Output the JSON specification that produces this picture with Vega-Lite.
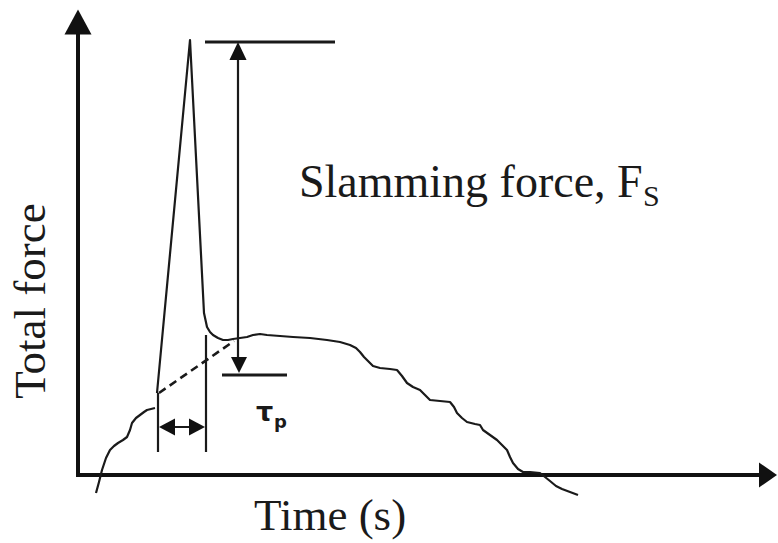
{
  "$schema": "https://vega.github.io/schema/vega-lite/v6.json",
  "width": 778,
  "height": 543,
  "autosize": {"type": "fit", "contains": "padding"},
  "padding": 0,
  "background": "white",
  "config": {"view": {"stroke": null}},
  "datasets": {
    "curve": [
      {"seg": "tail", "x": 96, "y": 493}, {"seg": "tail", "x": 99, "y": 482}, {"seg": "tail", "x": 102, "y": 470},
      {"seg": "tail", "x": 106, "y": 458}, {"seg": "tail", "x": 110, "y": 450}, {"seg": "tail", "x": 114, "y": 446},
      {"seg": "tail", "x": 118, "y": 443}, {"seg": "tail", "x": 123, "y": 440}, {"seg": "tail", "x": 127, "y": 437},
      {"seg": "tail", "x": 130, "y": 430}, {"seg": "tail", "x": 132, "y": 423}, {"seg": "tail", "x": 136, "y": 418},
      {"seg": "tail", "x": 140, "y": 415}, {"seg": "tail", "x": 144, "y": 412}, {"seg": "tail", "x": 147, "y": 410},
      {"seg": "tail", "x": 151, "y": 409}, {"seg": "tail", "x": 155, "y": 408},
      {"seg": "main", "x": 157, "y": 393}, {"seg": "main", "x": 190, "y": 40}, {"seg": "main", "x": 204, "y": 313},
      {"seg": "main", "x": 207, "y": 327}, {"seg": "main", "x": 210, "y": 332}, {"seg": "main", "x": 213, "y": 335},
      {"seg": "main", "x": 218, "y": 338}, {"seg": "main", "x": 223, "y": 340}, {"seg": "main", "x": 228, "y": 340},
      {"seg": "main", "x": 233, "y": 339}, {"seg": "main", "x": 240, "y": 338}, {"seg": "main", "x": 247, "y": 337},
      {"seg": "main", "x": 253, "y": 335}, {"seg": "main", "x": 260, "y": 334}, {"seg": "main", "x": 267, "y": 335},
      {"seg": "main", "x": 280, "y": 336}, {"seg": "main", "x": 293, "y": 337}, {"seg": "main", "x": 310, "y": 338},
      {"seg": "main", "x": 327, "y": 340}, {"seg": "main", "x": 340, "y": 342}, {"seg": "main", "x": 350, "y": 345},
      {"seg": "main", "x": 356, "y": 348}, {"seg": "main", "x": 360, "y": 352}, {"seg": "main", "x": 364, "y": 357},
      {"seg": "main", "x": 368, "y": 361}, {"seg": "main", "x": 373, "y": 366}, {"seg": "main", "x": 380, "y": 368},
      {"seg": "main", "x": 390, "y": 369}, {"seg": "main", "x": 397, "y": 370}, {"seg": "main", "x": 402, "y": 376},
      {"seg": "main", "x": 407, "y": 383}, {"seg": "main", "x": 413, "y": 387}, {"seg": "main", "x": 420, "y": 390},
      {"seg": "main", "x": 425, "y": 395}, {"seg": "main", "x": 430, "y": 400}, {"seg": "main", "x": 440, "y": 401},
      {"seg": "main", "x": 450, "y": 402}, {"seg": "main", "x": 454, "y": 407}, {"seg": "main", "x": 457, "y": 413},
      {"seg": "main", "x": 462, "y": 418}, {"seg": "main", "x": 467, "y": 422}, {"seg": "main", "x": 475, "y": 424},
      {"seg": "main", "x": 480, "y": 425}, {"seg": "main", "x": 483, "y": 430}, {"seg": "main", "x": 490, "y": 435},
      {"seg": "main", "x": 497, "y": 440}, {"seg": "main", "x": 502, "y": 445}, {"seg": "main", "x": 507, "y": 450},
      {"seg": "main", "x": 510, "y": 457}, {"seg": "main", "x": 513, "y": 463}, {"seg": "main", "x": 518, "y": 469},
      {"seg": "main", "x": 523, "y": 472}, {"seg": "main", "x": 530, "y": 472}, {"seg": "main", "x": 540, "y": 473},
      {"seg": "main", "x": 545, "y": 477}, {"seg": "main", "x": 550, "y": 481}, {"seg": "main", "x": 556, "y": 486},
      {"seg": "main", "x": 562, "y": 489}, {"seg": "main", "x": 570, "y": 492}, {"seg": "main", "x": 578, "y": 495}
    ],
    "dashed": [
      {"x": 159, "y": 393}, {"x": 234, "y": 341}
    ],
    "axes": [
      {"name": "y axis", "x": 78, "y": 477, "x2": 78, "y2": 30},
      {"name": "x axis", "x": 76, "y": 475, "x2": 764, "y2": 475}
    ],
    "guides": [
      {"name": "peak level", "x": 205, "y": 42, "x2": 335, "y2": 42},
      {"name": "base level", "x": 222, "y": 375, "x2": 287, "y2": 375}
    ],
    "thin": [
      {"name": "Fs shaft", "x": 238, "y": 55, "x2": 238, "y2": 362},
      {"name": "tau left", "x": 158, "y": 393, "x2": 158, "y2": 452},
      {"name": "tau right", "x": 206, "y": 335, "x2": 206, "y2": 452},
      {"name": "tau shaft", "x": 165, "y": 427, "x2": 200, "y2": 427}
    ],
    "headsUpBig": [{"x": 78, "y": 22}],
    "headsRightBig": [{"x": 768, "y": 475}],
    "headsUp": [{"x": 238, "y": 51}],
    "headsDown": [{"x": 239, "y": 365}],
    "headsLeft": [{"x": 167, "y": 427}],
    "headsRight": [{"x": 197, "y": 427}],
    "labels": [
      {"text": "Slamming force, F", "x": 299, "y": 197}
    ],
    "xlabel": [
      {"text": "Time (s)", "x": 254, "y": 530}
    ],
    "subS": [{"text": "S", "x": 643, "y": 206}],
    "ylabel": [{"text": "Total force", "x": 45, "y": 301}],
    "tau": [{"text": "τ", "x": 256, "y": 421}],
    "tauSub": [{"text": "p", "x": 274, "y": 428}]
  },
  "encoding": {
    "x": {"field": "x", "type": "quantitative", "scale": {"domain": [0, 778], "nice": false, "zero": false}, "axis": null},
    "y": {"field": "y", "type": "quantitative", "scale": {"domain": [0, 543], "nice": false, "zero": false, "reverse": true}, "axis": null}
  },
  "layer": [
    {
      "data": {"name": "axes"},
      "mark": {"type": "rule", "strokeWidth": 4, "color": "#111"},
      "encoding": {"x2": {"field": "x2"}, "y2": {"field": "y2"}}
    },
    {
      "data": {"name": "guides"},
      "mark": {"type": "rule", "strokeWidth": 3, "color": "#1a1a1a"},
      "encoding": {"x2": {"field": "x2"}, "y2": {"field": "y2"}}
    },
    {
      "data": {"name": "thin"},
      "mark": {"type": "rule", "strokeWidth": 2.2, "color": "#1a1a1a"},
      "encoding": {"x2": {"field": "x2"}, "y2": {"field": "y2"}}
    },
    {
      "data": {"name": "curve"},
      "mark": {"type": "line", "strokeWidth": 2.2, "color": "#1a1a1a", "strokeJoin": "round", "interpolate": "linear"},
      "encoding": {"detail": {"field": "seg"}}
    },
    {
      "data": {"name": "dashed"},
      "mark": {"type": "line", "strokeWidth": 2.6, "color": "#1a1a1a", "strokeDash": [8, 5]},
      "encoding": {}
    },
    {
      "data": {"name": "headsUpBig"},
      "mark": {"type": "point", "shape": "M0,-1L-1.08,1L1.08,1Z", "size": 625, "filled": true, "opacity": 1, "color": "#111", "strokeWidth": 0}
    },
    {
      "data": {"name": "headsRightBig"},
      "mark": {"type": "point", "shape": "M1,0L-1,-1.4L-1,1.4Z", "size": 324, "filled": true, "opacity": 1, "color": "#111", "strokeWidth": 0}
    },
    {
      "data": {"name": "headsUp"},
      "mark": {"type": "point", "shape": "M0,-1L-0.95,1L0.95,1Z", "size": 324, "filled": true, "opacity": 1, "color": "#111", "strokeWidth": 0}
    },
    {
      "data": {"name": "headsDown"},
      "mark": {"type": "point", "shape": "M0,1L-1,-1L1,-1Z", "size": 256, "filled": true, "opacity": 1, "color": "#111", "strokeWidth": 0}
    },
    {
      "data": {"name": "headsLeft"},
      "mark": {"type": "point", "shape": "M-1,0L1,-1.06L1,1.06Z", "size": 256, "filled": true, "opacity": 1, "color": "#111", "strokeWidth": 0}
    },
    {
      "data": {"name": "headsRight"},
      "mark": {"type": "point", "shape": "M1,0L-1,-1.06L-1,1.06Z", "size": 256, "filled": true, "opacity": 1, "color": "#111", "strokeWidth": 0}
    },
    {
      "data": {"name": "labels"},
      "mark": {"type": "text", "font": "Liberation Serif", "fontSize": 46, "align": "left", "baseline": "alphabetic", "color": "#1a1a1a"},
      "encoding": {"text": {"field": "text"}}
    },
    {
      "data": {"name": "xlabel"},
      "mark": {"type": "text", "font": "Liberation Serif", "fontSize": 45, "align": "left", "baseline": "alphabetic", "color": "#1a1a1a"},
      "encoding": {"text": {"field": "text"}}
    },
    {
      "data": {"name": "subS"},
      "mark": {"type": "text", "font": "Liberation Serif", "fontSize": 30, "align": "left", "baseline": "alphabetic", "color": "#1a1a1a"},
      "encoding": {"text": {"field": "text"}}
    },
    {
      "data": {"name": "ylabel"},
      "mark": {"type": "text", "font": "Liberation Serif", "fontSize": 45, "align": "center", "baseline": "alphabetic", "angle": 270, "color": "#1a1a1a"},
      "encoding": {"text": {"field": "text"}}
    },
    {
      "data": {"name": "tau"},
      "mark": {"type": "text", "font": "DejaVu Sans", "fontSize": 27, "fontWeight": "bold", "align": "left", "baseline": "alphabetic", "color": "#1a1a1a"},
      "encoding": {"text": {"field": "text"}}
    },
    {
      "data": {"name": "tauSub"},
      "mark": {"type": "text", "font": "DejaVu Sans", "fontSize": 18, "fontWeight": "bold", "align": "left", "baseline": "alphabetic", "color": "#1a1a1a"},
      "encoding": {"text": {"field": "text"}}
    }
  ]
}
